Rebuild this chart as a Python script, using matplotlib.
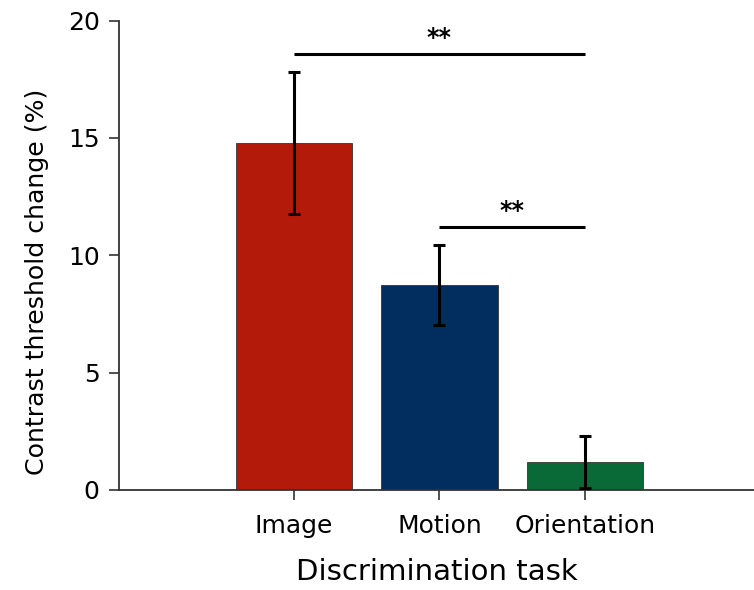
import numpy as np
import matplotlib.pyplot as plt

tasks = ['Image', 'Motion', 'Orientation']
threshold_change = [14.78, 8.74, 1.19]
sem = [3.03, 1.69, 1.12]
bar_colors = ['#B31A09', '#012E5E', '#0A6A37']

# significance brackets: (from bar, to bar, height, label)
sig_pairs = [(0, 2, 18.58, '**'), (1, 2, 11.22, '**')]

plt.rcParams['font.family'] = 'DejaVu Sans'

fig = plt.figure(figsize=(7.54, 5.90), dpi=100)
ax = fig.add_axes([0.158, 0.1695, 0.842, 0.7955])

x = np.arange(len(tasks))
ax.bar(x, threshold_change, width=0.8, color=bar_colors, edgecolor='#333333', linewidth=0.6, zorder=2)
ax.errorbar(x, threshold_change, yerr=sem, fmt='none', ecolor='black', elinewidth=2.2,
            capsize=4, capthick=2.2, zorder=3)

for i, j, h, label in sig_pairs:
    ax.plot([x[i], x[j]], [h, h], color='black', lw=2.2, solid_capstyle='butt', zorder=3)
    ax.text((x[i] + x[j]) / 2, h + 0.15, label, ha='center', va='bottom', fontsize=17, fontweight='bold')

ax.set_xlim(-1.2, 3.16)
ax.set_ylim(0, 20)
ax.set_yticks([0, 5, 10, 15, 20])
ax.set_xticks(x)
ax.set_xticklabels(tasks)

for side in ['top', 'right']:
    ax.spines[side].set_visible(False)
for side in ['left', 'bottom']:
    ax.spines[side].set_color('#333333')
    ax.spines[side].set_linewidth(1.3)

ax.tick_params(axis='both', labelsize=18, length=7, width=1.2, color='#333333')
ax.tick_params(axis='x', pad=10)
ax.tick_params(axis='y', pad=7)
ax.set_xlabel('Discrimination task', fontsize=21, labelpad=15)
ax.set_ylabel('Contrast threshold change (%)', fontsize=18.2)
ax.yaxis.set_label_coords(-0.11, 0.443)

fig.savefig('out.png', dpi=100)
